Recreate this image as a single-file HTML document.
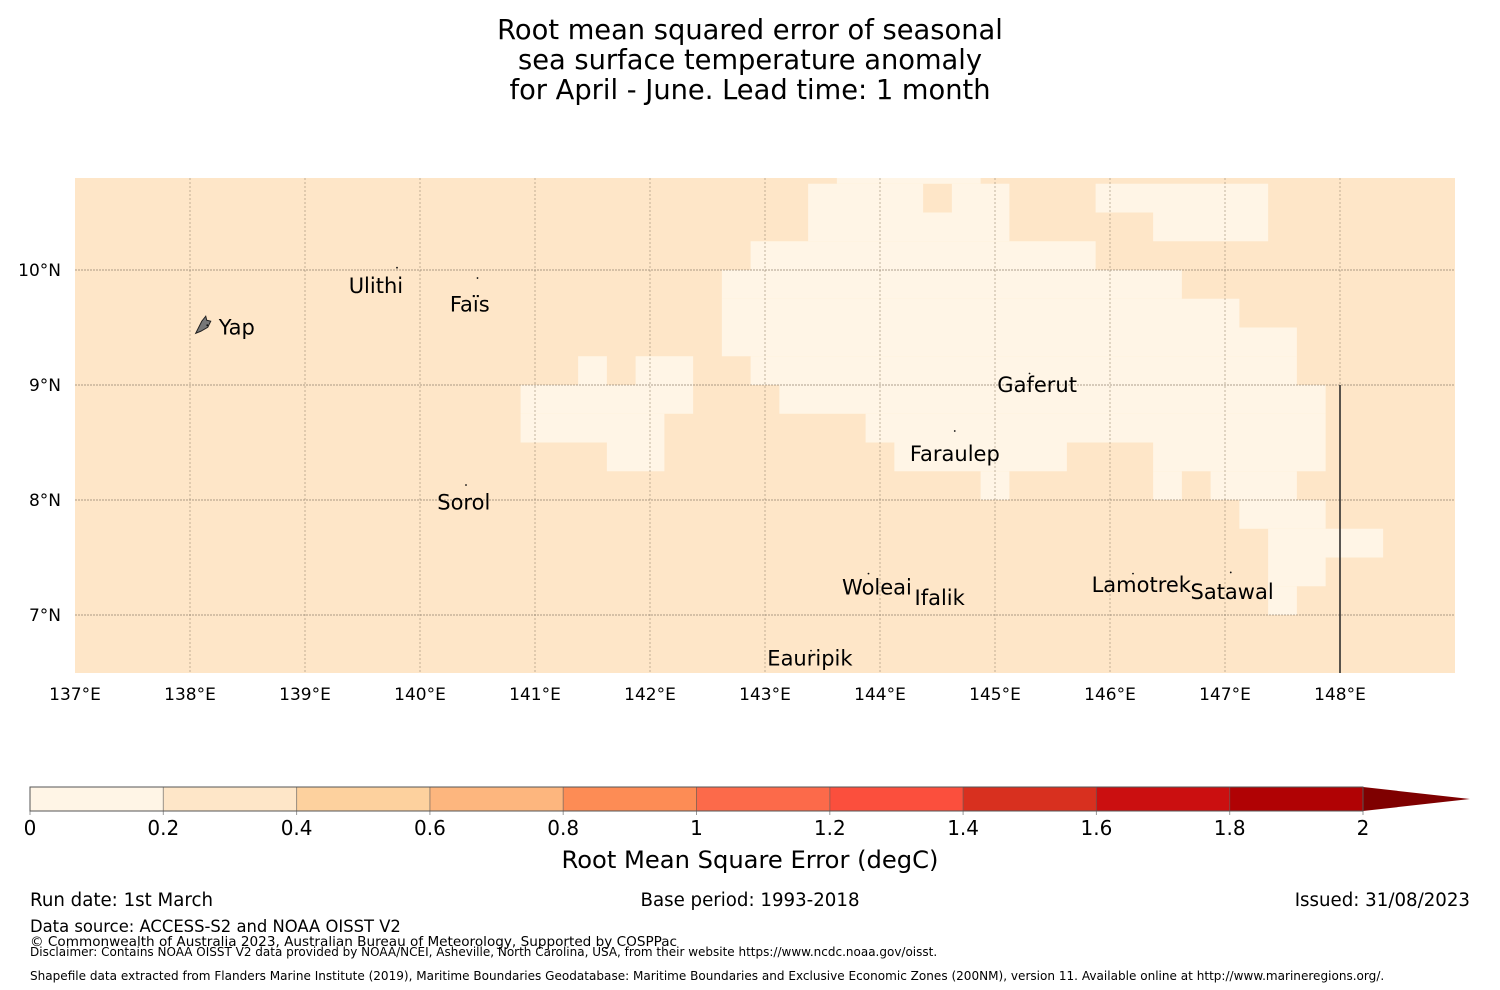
<!DOCTYPE html>
<html><head><meta charset="utf-8">
<style>
body{margin:0;background:#fff;font-family:"DejaVu Sans","Liberation Sans",sans-serif;}
#wrap{position:relative;width:1500px;height:990px;overflow:hidden;}
svg text{font-family:"DejaVu Sans","Liberation Sans",sans-serif;}
</style></head>
<body>
<div id="wrap">
<svg id="chart" width="1500" height="990" xmlns="http://www.w3.org/2000/svg">
<g>
<text x="750" y="39" font-size="27.3" text-anchor="middle">Root mean squared error of seasonal</text>
<text x="750" y="69" font-size="27.3" text-anchor="middle">sea surface temperature anomaly</text>
<text x="750" y="99" font-size="27.3" text-anchor="middle">for April - June. Lead time: 1 month</text>
</g>
<g id="map"></g>
<g id="cbar"></g>
<text x="750" y="868" font-size="24.2" text-anchor="middle">Root Mean Square Error (degC)</text>
<g font-size="18.2">
<text x="30" y="906">Run date: 1st March</text>
<text x="750" y="906" text-anchor="middle">Base period: 1993-2018</text>
<text x="1470" y="906" text-anchor="end">Issued: 31/08/2023</text>
<text x="30" y="932" font-size="16.4">Data source: ACCESS-S2 and NOAA OISST V2</text>
<text x="30" y="946" font-size="13.6">© Commonwealth of Australia 2023, Australian Bureau of Meteorology, Supported by COSPPac</text>
<text x="30" y="956" font-size="12">Disclaimer: Contains NOAA OISST V2 data provided by NOAA/NCEI, Asheville, North Carolina, USA, from their website https://www.ncdc.noaa.gov/oisst.</text>
<text x="30" y="980" font-size="12.05">Shapefile data extracted from Flanders Marine Institute (2019), Maritime Boundaries Geodatabase: Maritime Boundaries and Exclusive Economic Zones (200NM), version 11. Available online at http://www.marineregions.org/.</text>
</g>
</svg>
</div>
<script>
// ---- data ----
const lonTicks = [137,138,139,140,141,142,143,144,145,146,147,148];
const latTicks = [10,9,8,7];
// low-error (0-0.2) cells: row bottom latitude, row top latitude, spans [lonStart, lonEnd]
const rowLatBottom = [10.75,10.5,10.25,10.0,9.75,9.5,9.25,9.0,8.75,8.5,8.25,8.0,7.75,7.5,7.25,7.0];
const rowLatTop    = [10.8,10.75,10.5,10.25,10.0,9.75,9.5,9.25,9.0,8.75,8.5,8.25,8.0,7.75,7.5,7.25];
const rowSpans = [
 [[143.625,144.875]],
 [[143.375,144.375],[144.625,145.125],[145.875,147.375]],
 [[143.375,145.125],[146.375,147.375]],
 [[142.875,145.875]],
 [[142.625,146.625]],
 [[142.625,147.125]],
 [[142.625,147.625]],
 [[141.375,141.625],[141.875,142.375],[142.875,147.625]],
 [[140.875,142.375],[143.125,147.875]],
 [[140.875,142.125],[143.875,147.875]],
 [[141.625,142.125],[144.125,145.625],[146.375,147.875]],
 [[144.875,145.125],[146.375,146.625],[146.875,147.625]],
 [[147.125,147.875]],
 [[147.375,148.375]],
 [[147.375,147.875]],
 [[147.375,147.625]]
];
const placeNames = ["Ulithi","Fais","Yap","Gaferut","Faraulep","Sorol","Woleai","Ifalik","Lamotrek","Satawal","Eauripik"];
const placeLon = [139.8,140.5,138.15,145.3,144.65,140.4,143.9,144.5,146.2,147.05,143.4];
const placeLat = [10.02,9.93,9.52,9.1,8.6,8.13,7.36,7.1,7.36,7.37,6.69];
const labelText = ["Ulithi","Faïs","Yap","Gaferut","Faraulep","Sorol","Woleai","Ifalik","Lamotrek","Satawal","Eauripik"];
const labelLon = [139.38,140.26,138.25,145.02,144.26,140.15,143.67,144.3,145.84,146.7,143.02];
const labelLat = [9.86,9.7,9.5,9.0,8.4,7.98,7.24,7.15,7.26,7.2,6.62];
const cbLevels = [0,0.2,0.4,0.6,0.8,1,1.2,1.4,1.6,1.8,2];
const cbTickLabels = ["0","0.2","0.4","0.6","0.8","1","1.2","1.4","1.6","1.8","2"];
const cbColors = ["#fff5e6","#fee6c8","#fdd19e","#fdb67e","#fd8c55","#fc6a4a","#fb4f3d","#d8301f","#cb0f10","#b00204"];
// ---- scales ----
const NS="http://www.w3.org/2000/svg";
const X0=75,X1=1455,Y0=178,Y1=673;
const xS = lon => 75 + (lon-137)*115;
const yS = lat => 270 - (lat-10)*115;
function mk(tag, attrs, parent){const e=document.createElementNS(NS,tag);for(const k in attrs)e.setAttribute(k,attrs[k]);parent.appendChild(e);return e;}
const map=document.getElementById('map');
let bg=mk('rect',{x:X0,y:Y0,width:X1-X0,height:Y1-Y0,fill:cbColors[1]},map);


rowSpans.forEach((spans,i)=>{
  spans.forEach(s=>{
    const r=mk('rect',{x:xS(s[0]),y:yS(rowLatTop[i]),width:xS(s[1])-xS(s[0]),height:yS(rowLatBottom[i])-yS(rowLatTop[i]),fill:cbColors[0]},map);
    
    
  });
});
lonTicks.forEach(l=>{
  const x=xS(l);
  if(x>X0+1){const g=mk('line',{x1:x,x2:x,y1:Y0,y2:Y1,stroke:'#a89880','stroke-width':1,'stroke-dasharray':'2,2',opacity:0.7},map);
  
  }
  const t=mk('text',{x:x,y:700,'font-size':17,'text-anchor':'middle'},map);t.textContent=l+'°E';
  
  
});
latTicks.forEach(l=>{
  const y=yS(l);
  const g=mk('line',{x1:X0,x2:X1,y1:y,y2:y,stroke:'#8a7a68','stroke-width':1,'stroke-dasharray':'2,1',opacity:0.7},map);
  
  
  const t=mk('text',{x:61,y:y+6,'font-size':17,'text-anchor':'end'},map);t.textContent=l+'°N';
  
  
});
const eez=mk('line',{x1:xS(148),x2:xS(148),y1:yS(9),y2:Y1,stroke:'#222','stroke-width':1.5},map);


const yap=mk('path',{d:`M${xS(138.05)},${yS(9.45)} l6,-12 l4,-5 l1,4 l4,1 l-3,6 l-7,4 z`,fill:'#777',stroke:'#222','stroke-width':1},map);


placeNames.forEach((n,i)=>{
  const d=mk('circle',{cx:xS(placeLon[i]),cy:yS(placeLat[i]),r:0.9,fill:'#111'},map);
  
  
});
labelText.forEach((n,i)=>{
  const t=mk('text',{x:xS(labelLon[i]),y:yS(labelLat[i])+7,'font-size':21},map);t.textContent=n;
  
  
});
// colorbar
const cb=document.getElementById('cbar');
const CB0=30,CB1=1363,CBy=787,CBh=24;
const cx=v=>CB0+(v-cbLevels[0])/(cbLevels[cbLevels.length-1]-cbLevels[0])*(CB1-CB0);
cbColors.forEach((c,i)=>{
  const r=mk('rect',{x:cx(cbLevels[i]),y:CBy,width:cx(cbLevels[i+1])-cx(cbLevels[i]),height:CBh,fill:c},cb);
  
  
});
const tri=mk('path',{d:`M${CB1},${CBy} L1470,${CBy+CBh/2} L${CB1},${CBy+CBh} z`,fill:'#7f0000'},cb);


mk('rect',{x:CB0,y:CBy,width:CB1-CB0,height:CBh,fill:'none',stroke:'#555','stroke-width':1},cb);
cbLevels.forEach((v,i)=>{
  const x=cx(v);
  mk('line',{x1:x,x2:x,y1:CBy,y2:CBy+CBh+4,stroke:'#555','stroke-width':1,opacity:0.6},cb);
  const t=mk('text',{x:x,y:835,'font-size':20,'text-anchor':'middle'},cb);t.textContent=cbTickLabels[i];
  
  
});
</script>
</body></html>
